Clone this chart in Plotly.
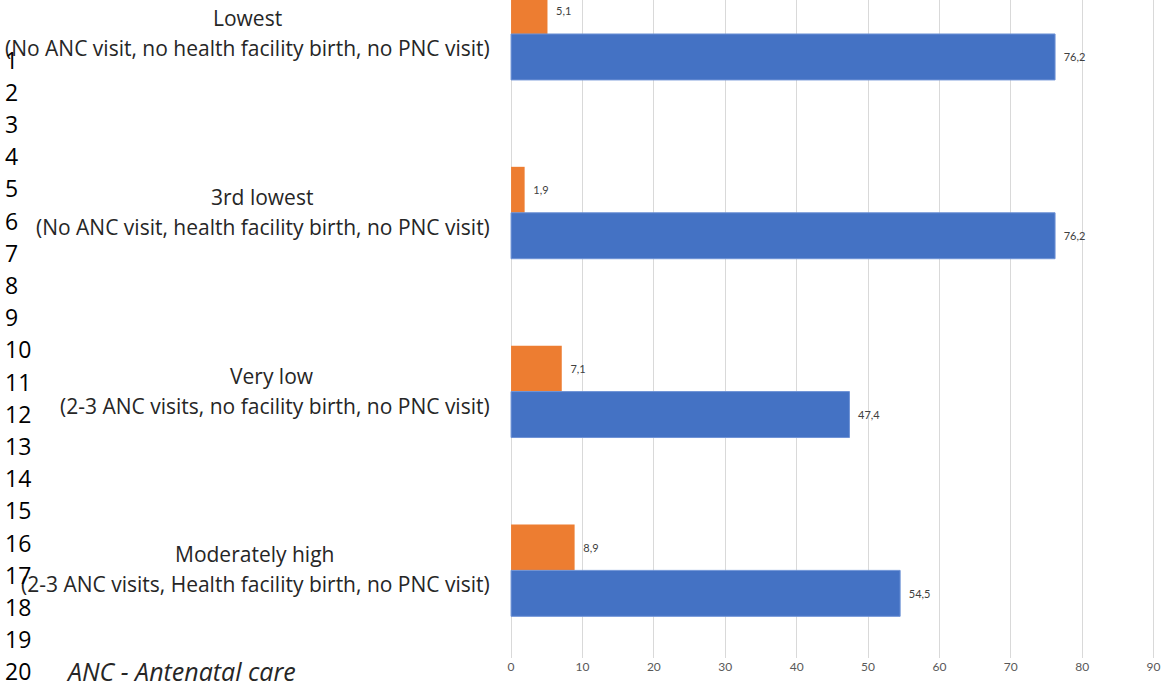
import plotly.graph_objects as go

# Care-pattern groups (top to bottom) and their two series
titles = ["Lowest", "3rd lowest", "Very low", "Moderately high"]
details = [
    "(No ANC visit, no health facility birth, no PNC visit)",
    "(No ANC visit, health facility birth, no PNC visit)",
    "(2-3 ANC visits, no facility birth, no PNC visit)",
    "(2-3 ANC visits, Health facility birth, no PNC visit)",
]
orange_values = [5.1, 1.9, 7.1, 8.9]
blue_values = [76.2, 76.2, 47.4, 54.5]
x_ticks = [0, 10, 20, 30, 40, 50, 60, 70, 80, 90]
line_numbers = list(range(1, 21))
footnote = "ANC - Antenatal care"

# horizontal centres (px) of each two-line group label
title_centres = [247, 262, 272, 254]

ORANGE = "#ED7D31"
BLUE = "#4472C4"
W, H = 1167, 688
ML, MR, MT, MB = 510, 12, 0, 30
PLOT_W = W - ML - MR
PLOT_H = H - MT - MB

positions = list(range(len(titles)))
bar_w = 0.257


def fmt(v):
    return "\u00a0\u00a0" + f"{v:.1f}".replace(".", ",")


fig = go.Figure()
fig.add_trace(go.Bar(
    y=positions, x=orange_values, orientation="h",
    width=bar_w, offset=-bar_w,
    marker=dict(color=ORANGE, line=dict(width=0)),
    text=[fmt(v) for v in orange_values], textposition="outside",
    textfont=dict(family="Lato", size=11, color="#404040"),
    cliponaxis=False, showlegend=False,
))
fig.add_trace(go.Bar(
    y=positions, x=blue_values, orientation="h",
    width=bar_w, offset=0,
    marker=dict(color=BLUE, line=dict(width=1, color="#6f93d6")),
    text=[fmt(v) for v in blue_values], textposition="outside",
    textfont=dict(family="Lato", size=11, color="#404040"),
    cliponaxis=False, showlegend=False,
))

annotations = []
label_font = dict(family="Open Sans", size=21, color="#262626")
for pos, title, detail, cx in zip(positions, titles, details, title_centres):
    annotations.append(dict(
        xref="paper", yref="y", x=(cx - ML) / PLOT_W, y=pos,
        xanchor="center", yanchor="middle", yshift=16, showarrow=False,
        font=label_font, text=title,
    ))
    annotations.append(dict(
        xref="paper", yref="y", x=0, y=pos, xanchor="right", yanchor="middle",
        xshift=-18, yshift=-14, showarrow=False, font=label_font, text=detail,
    ))

# document line numbers down the left edge
for n in line_numbers:
    py = 59.5 + (n - 1) * 32.2
    annotations.append(dict(
        xref="paper", yref="paper", x=(3 - ML) / PLOT_W, y=1 - (py - MT) / PLOT_H,
        xanchor="left", yanchor="middle", showarrow=False,
        text=str(n), font=dict(family="Open Sans", size=23, color="#000000"),
    ))

annotations.append(dict(
    xref="paper", yref="paper", x=(64 - ML) / PLOT_W, y=1 - (671 - MT) / PLOT_H,
    xanchor="left", yanchor="middle", showarrow=False,
    text=f"<i>{footnote}</i>", font=dict(family="Open Sans", size=25, color="#262626"),
))

fig.update_layout(
    width=W, height=H,
    margin=dict(l=ML, r=MR, t=MT, b=MB),
    paper_bgcolor="white", plot_bgcolor="white",
    barmode="overlay",
    annotations=annotations,
    xaxis=dict(
        range=[-0.15, 90.2], tickvals=x_ticks, ticktext=[str(t) for t in x_ticks],
        showgrid=True, gridcolor="#d9d9d9", gridwidth=1,
        zeroline=True, zerolinecolor="#d9d9d9", zerolinewidth=1,
        showline=False, ticks="", ticklen=0,
        tickfont=dict(family="Lato", size=12, color="#595959"),
    ),
    yaxis=dict(
        range=[3.49, -0.19], showgrid=False, zeroline=False,
        showticklabels=False, ticks="",
    ),
)

fig.write_html("out.html")
